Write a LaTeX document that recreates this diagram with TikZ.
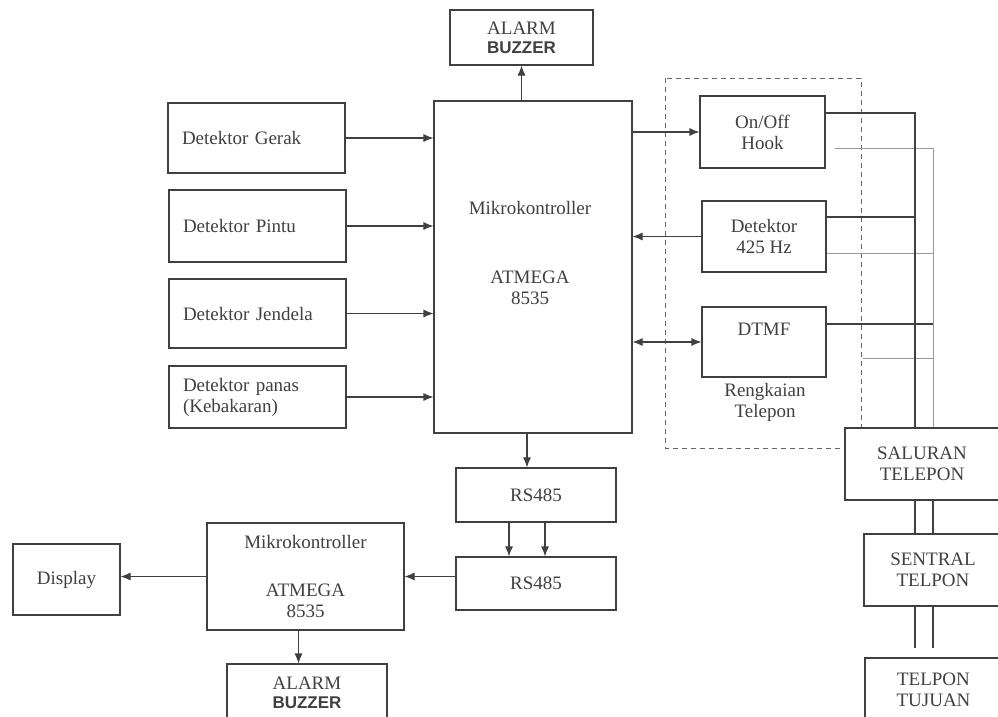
\documentclass[tikz,border=0pt]{standalone}
\usepackage{fontspec}
\setmainfont{Liberation Serif}
\newfontfamily\buzzfont{Liberation Sans}
\usetikzlibrary{arrows.meta, positioning}

\newcommand{\buzz}{{\buzzfont\bfseries\fontsize{17}{19}\selectfont BUZZER}}

\tikzset{
  blk/.style={draw=black!75, line width=1.1pt, fill=white, inner sep=0pt, align=center, text=black!75},
  lft/.style={blk, text width=149pt, align=left, inner xsep=14pt},
  arr/.style={draw=black!75, line width=1.1pt, ->},
  wire/.style={draw=black!75, line width=1.1pt},
  wirel/.style={draw=black!40, line width=1pt},
  grp/.style={draw=black!60, line width=1pt, dash pattern=on 5pt off 4pt},
}

\begin{document}
\begin{tikzpicture}[x=1pt, y=-1pt, >={Latex[length=10pt,width=8pt]}, font=\fontsize{19}{21}\selectfont]
\useasboundingbox (0,0) rectangle (998,717);

% Rangkaian telepon (grup)
\draw[grp] (665,78) rectangle (861,448);

% Mikrokontroller utama
\node[blk, minimum width=143pt, minimum height=55pt] (alarmT) at (521.5,37.5) {ALARM\\[-2pt]\buzz};
\node[blk, minimum width=198pt, minimum height=332pt] (main) at (533,267) {};
\node[text=black!75, align=center] (mainT) at (530,253) {Mikrokontroller\\[48pt]ATMEGA\\8535};

% Detektor
\node[lft, minimum height=70pt] (gerak) at (256.5,138) {Detektor Gerak};
\node[lft, minimum height=72pt] (pintu) at (257.5,226) {Detektor Pintu};
\node[lft, minimum height=69pt] (jendela) at (257.5,313.5) {Detektor Jendela};
\node[lft, minimum height=62pt] (panas) at (257.5,397) {Detektor panas\\(Kebakaran)};

% Telepon
\node[blk, minimum width=125pt, minimum height=72pt] (hook) at (762.5,132) {On/Off\\Hook};
\node[blk, minimum width=124pt, minimum height=71pt] (det425) at (764,236.5) {Detektor\\425 Hz};
\node[blk, minimum width=124pt, minimum height=70pt] (dtmf) at (764,342) {DTMF\\[4pt]~};
\node[text=black!75, align=center] (rangkaian) at (765,402) {Rengkaian\\Telepon};
\node[blk, minimum width=154pt, minimum height=72pt] (saluran) at (922,464) {SALURAN\\TELEPON};
\node[blk, minimum width=138pt, minimum height=72pt] (sentral) at (933,570) {SENTRAL\\TELPON};
\node[blk, minimum width=137pt, minimum height=64pt] (tujuan) at (933.5,690) {TELPON\\TUJUAN};

% Bagian bawah
\node[blk, minimum width=160pt, minimum height=54pt] (rsA) at (536,495) {RS485};
\node[blk, minimum width=160pt, minimum height=53pt] (rsB) at (536,583.5) {RS485};
\node[blk, minimum width=197pt, minimum height=107pt] (micro2) at (305.5,576.5) {Mikrokontroller\\[27pt]ATMEGA\\8535};
\node[blk, minimum width=107pt, minimum height=71pt] (display) at (66.5,579.5) {Display};
\node[blk, minimum width=160pt, minimum height=58pt] (alarmB) at (307,693) {ALARM\\[-2pt]\buzz};

% Panah
\foreach \d in {gerak,pintu,jendela,panas}
  \draw[arr] (\d.east) -- (\d.east -| main.west);
\draw[arr] (main.north -| alarmT) -- (alarmT.south);
\draw[arr] (main.east |- hook.west) -- (hook.west);
\draw[arr] (det425.west) -- (det425.west -| main.east);
\draw[arr, <->] (main.east |- dtmf.west) -- (dtmf.west);
\draw[arr] ([xshift=-6pt]main.south) -- ([xshift=-6pt]main.south |- rsA.north);
\draw[arr] ([xshift=-27pt]rsA.south) -- ([xshift=-27pt]rsA.south |- rsB.north);
\draw[arr] ([xshift=9pt]rsA.south) -- ([xshift=9pt]rsA.south |- rsB.north);
\draw[arr] (rsB.west |- micro2.east) -- (micro2.east);
\draw[arr] (micro2.west) -- (micro2.west -| display.east);
\draw[arr] ([xshift=-7pt]micro2.south) -- ([xshift=-7pt]micro2.south |- alarmB.north);

% Saluran telepon
\coordinate (busA) at (915,113);
\coordinate (busB) at (933,148);
\coordinate (hookB) at (835,148);
\coordinate (dtmfB) at (863,358);
\draw[wirel] (hookB) -- (busB) -- (busB |- saluran.north);
\draw[wirel] (det425.east |- 0,253) -- (busB |- 0,253);
\draw[wirel] (dtmfB) -- (busB |- dtmfB);
\draw[wire] (hook.east |- busA) -- (busA) -- (busA |- saluran.north);
\draw[wire] (det425.east |- 0,217) -- (busA |- 0,217);
\draw[wire] (dtmf.east |- 0,324) -- (busB |- 0,324);
\foreach \b in {busA,busB} {
  \draw[wire] (saluran.south -| \b) -- (sentral.north -| \b);
  \draw[wire] (sentral.south -| \b) -- ([yshift=9pt]tujuan.north -| \b);
}
\end{tikzpicture}
\end{document}
